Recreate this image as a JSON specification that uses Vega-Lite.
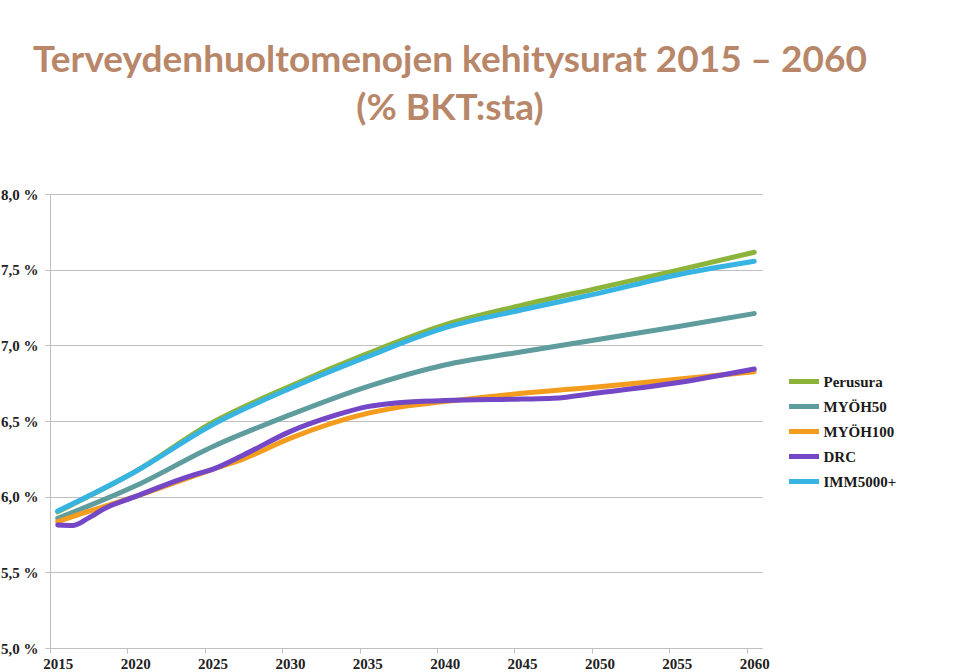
{
  "$schema": "https://vega.github.io/schema/vega-lite/v6.json",
  "width": 712,
  "height": 454,
  "autosize": "none",
  "padding": {"left": 50, "top": 194, "right": 198, "bottom": 24},
  "background": "white",
  "title": {
    "text": ["Terveydenhuoltomenojen kehitysurat 2015 – 2060", "(% BKT:sta)"],
    "font": "Lato",
    "fontSize": 37,
    "fontWeight": "bold",
    "color": "#B8876A",
    "anchor": "middle",
    "frame": "group",
    "dx": 44,
    "offset": 59,
    "lineHeight": 48
  },
  "data": {
    "values": [
      {"s": "Perusura", "year": 2015, "v": 5.9},
      {"s": "Perusura", "year": 2020, "v": 6.165},
      {"s": "Perusura", "year": 2025, "v": 6.49},
      {"s": "Perusura", "year": 2030, "v": 6.73},
      {"s": "Perusura", "year": 2035, "v": 6.945},
      {"s": "Perusura", "year": 2040, "v": 7.135},
      {"s": "Perusura", "year": 2045, "v": 7.265},
      {"s": "Perusura", "year": 2050, "v": 7.38},
      {"s": "Perusura", "year": 2055, "v": 7.495},
      {"s": "Perusura", "year": 2060, "v": 7.615},
      {"s": "MYÖH50", "year": 2015, "v": 5.857},
      {"s": "MYÖH50", "year": 2020, "v": 6.07},
      {"s": "MYÖH50", "year": 2025, "v": 6.33},
      {"s": "MYÖH50", "year": 2030, "v": 6.54},
      {"s": "MYÖH50", "year": 2035, "v": 6.727},
      {"s": "MYÖH50", "year": 2040, "v": 6.87},
      {"s": "MYÖH50", "year": 2045, "v": 6.958},
      {"s": "MYÖH50", "year": 2050, "v": 7.04},
      {"s": "MYÖH50", "year": 2055, "v": 7.123},
      {"s": "MYÖH50", "year": 2060, "v": 7.21},
      {"s": "MYÖH100", "year": 2015, "v": 5.835},
      {"s": "MYÖH100", "year": 2016, "v": 5.87},
      {"s": "MYÖH100", "year": 2020, "v": 6.0},
      {"s": "MYÖH100", "year": 2025, "v": 6.18},
      {"s": "MYÖH100", "year": 2027, "v": 6.25},
      {"s": "MYÖH100", "year": 2030, "v": 6.385},
      {"s": "MYÖH100", "year": 2035, "v": 6.55},
      {"s": "MYÖH100", "year": 2037, "v": 6.59},
      {"s": "MYÖH100", "year": 2040, "v": 6.628},
      {"s": "MYÖH100", "year": 2045, "v": 6.683},
      {"s": "MYÖH100", "year": 2050, "v": 6.727},
      {"s": "MYÖH100", "year": 2055, "v": 6.776},
      {"s": "MYÖH100", "year": 2060, "v": 6.826},
      {"s": "DRC", "year": 2015, "v": 5.813},
      {"s": "DRC", "year": 2016, "v": 5.81},
      {"s": "DRC", "year": 2017, "v": 5.86},
      {"s": "DRC", "year": 2018, "v": 5.92},
      {"s": "DRC", "year": 2020, "v": 6.0},
      {"s": "DRC", "year": 2022, "v": 6.08},
      {"s": "DRC", "year": 2024, "v": 6.15},
      {"s": "DRC", "year": 2025, "v": 6.18},
      {"s": "DRC", "year": 2027, "v": 6.275},
      {"s": "DRC", "year": 2030, "v": 6.43},
      {"s": "DRC", "year": 2033, "v": 6.54},
      {"s": "DRC", "year": 2035, "v": 6.595},
      {"s": "DRC", "year": 2037, "v": 6.621},
      {"s": "DRC", "year": 2040, "v": 6.635},
      {"s": "DRC", "year": 2045, "v": 6.645},
      {"s": "DRC", "year": 2047, "v": 6.65},
      {"s": "DRC", "year": 2050, "v": 6.687},
      {"s": "DRC", "year": 2055, "v": 6.753},
      {"s": "DRC", "year": 2060, "v": 6.844},
      {"s": "IMM5000+", "year": 2015, "v": 5.905},
      {"s": "IMM5000+", "year": 2020, "v": 6.165},
      {"s": "IMM5000+", "year": 2025, "v": 6.475},
      {"s": "IMM5000+", "year": 2030, "v": 6.715},
      {"s": "IMM5000+", "year": 2035, "v": 6.925},
      {"s": "IMM5000+", "year": 2040, "v": 7.115},
      {"s": "IMM5000+", "year": 2045, "v": 7.235},
      {"s": "IMM5000+", "year": 2050, "v": 7.345},
      {"s": "IMM5000+", "year": 2055, "v": 7.465},
      {"s": "IMM5000+", "year": 2060, "v": 7.555}
    ]
  },
  "mark": {"type": "line", "strokeWidth": 5, "interpolate": "monotone", "strokeCap": "round"},
  "encoding": {
    "x": {
      "field": "year",
      "type": "quantitative",
      "scale": {"domain": [2014.5, 2060.5], "nice": false, "zero": false},
      "axis": {
        "values": [2015, 2020, 2025, 2030, 2035, 2040, 2045, 2050, 2055, 2060],
        "format": "d",
        "title": null,
        "grid": false,
        "tickOffset": -7.74,
        "labelOffset": 7.74,
        "tickSize": 5,
        "tickColor": "#BFBFBF",
        "domainColor": "#BFBFBF",
        "labelFont": "Liberation Serif",
        "labelFontWeight": "bold",
        "labelFontSize": 15,
        "labelColor": "#222222",
        "labelPadding": 3,
        "labelFlush": false
      }
    },
    "y": {
      "field": "v",
      "type": "quantitative",
      "scale": {"domain": [5, 8], "nice": false, "zero": false},
      "axis": {
        "values": [5, 5.5, 6, 6.5, 7, 7.5, 8],
        "labelExpr": "replace(format(datum.value, '.1f'), '.', ',') + ' %'",
        "title": null,
        "grid": true,
        "gridColor": "#BFBFBF",
        "tickSize": 5,
        "tickColor": "#BFBFBF",
        "domainColor": "#BFBFBF",
        "labelFont": "Liberation Serif",
        "labelFontWeight": "bold",
        "labelFontSize": 15,
        "labelColor": "#222222",
        "labelPadding": 7
      }
    },
    "color": {
      "field": "s",
      "type": "nominal",
      "sort": ["Perusura", "MYÖH50", "MYÖH100", "DRC", "IMM5000+"],
      "scale": {
        "domain": ["Perusura", "MYÖH50", "MYÖH100", "DRC", "IMM5000+"],
        "range": ["#8CB43A", "#5F9C9E", "#F39C1E", "#7447C6", "#38B4E2"]
      },
      "legend": {
        "title": null,
        "orient": "none",
        "legendX": 739,
        "legendY": 172.5,
        "symbolType": "M-1.2,0H1.2",
        "symbolStrokeWidth": 5,
        "symbolSize": 625,
        "symbolFillColor": "transparent",
        "rowPadding": 0,
        "labelFont": "Liberation Serif",
        "labelFontWeight": "bold",
        "labelFontSize": 15,
        "labelColor": "#1A1A1A",
        "labelOffset": 4.5,
        "padding": 0
      }
    }
  },
  "config": {"view": {"stroke": null}}
}
